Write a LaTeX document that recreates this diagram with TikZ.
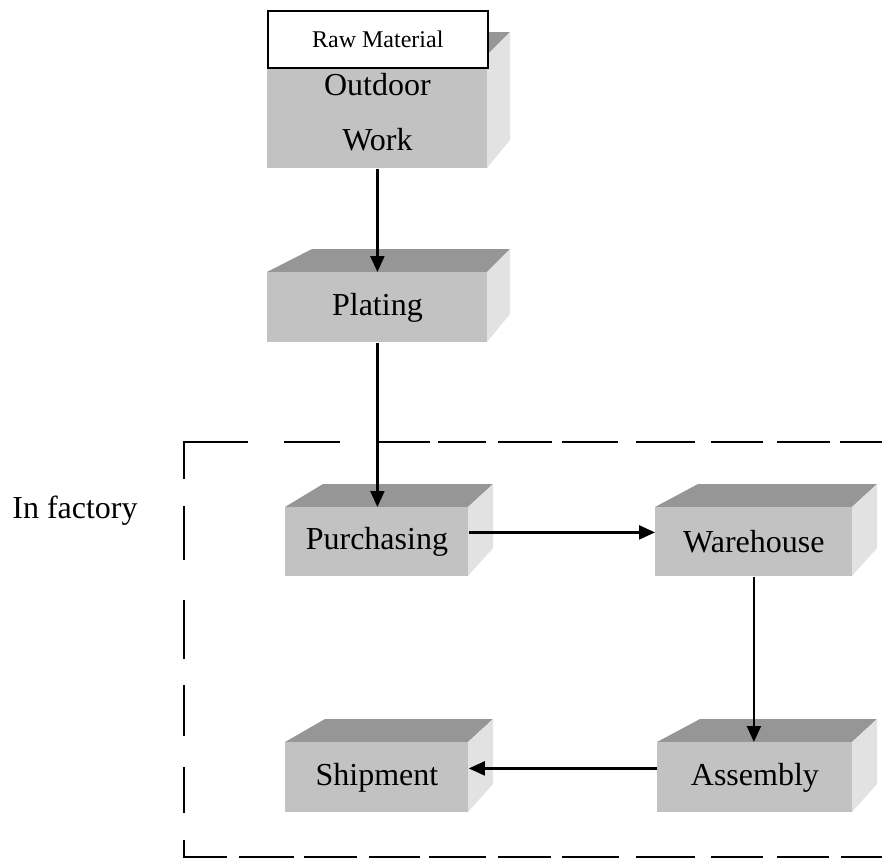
\documentclass[tikz,border=0pt]{standalone}
\usepackage{fontspec}
\setmainfont{Liberation Serif}
\usetikzlibrary{arrows.meta}

\definecolor{faceFront}{HTML}{C2C2C2}
\definecolor{faceTop}{HTML}{969696}
\definecolor{faceSide}{HTML}{E2E2E2}

% A shaded 3-D block: #1 name, #2/#3 left/right x of the front face,
% #4/#5 top/bottom y of the front face, #6/#7 back-left/back-right x of the top face,
% #8 label
\newcommand\prismbox[8]{%
  \fill[faceTop] (#2,#4) -- (#3,#4) -- (#7,#4-23) -- (#6,#4-23) -- cycle;
  \fill[faceSide] (#3,#4) -- (#7,#4-23) -- (#7,#5-28) -- (#3,#5) -- cycle;
  \node[frontface, anchor=north west,
        minimum width={(#3-#2)*0.5pt}, minimum height={(#5-#4)*0.5pt}]
        (#1) at (#2,#4) {#8};
}

\begin{document}
\begin{tikzpicture}[x=0.5pt, y=-0.5pt,
  frontface/.style={fill=faceFront, inner sep=0pt, align=center,
                    font=\fontsize{16pt}{27.5pt}\selectfont},
  labelbox/.style={draw=black, line width=0.8pt, fill=white, inner sep=0pt,
                   font=\fontsize{12pt}{14pt}\selectfont},
  flow/.style={line width=1.1pt, -{Triangle[length=8pt, width=7pt]}},
  border/.style={line width=1pt, line cap=butt},
]
\useasboundingbox (0,0) rectangle (882,857);

% blocks
\prismbox{outdoor}{267}{487}{55}{168}{312}{510}{Outdoor\\Work}
\node[labelbox, anchor=north west, minimum width=110pt, minimum height=28.5pt]
  (raw) at (267,10) {Raw Material};
\prismbox{plating}{267}{487}{272}{342}{312}{510}{Plating}
\prismbox{purch}{285}{468}{507}{576}{323}{493}{Purchasing}
\prismbox{ware}{655}{852}{507}{576}{698}{877}{Warehouse}
\prismbox{ship}{285}{468}{742}{812}{325}{493}{Shipment}
\prismbox{assy}{657}{852}{742}{812}{700}{877}{Assembly}

% factory boundary
\draw[border] (184,479) -- (184,442) -- (248,442);
\foreach \a/\b in {284/340, 378/430, 438/486, 498/552, 562/618, 636/695,
                   711/763, 777/830, 840/890}
  \draw[border] (\a,442) -- (\b,442);
\foreach \a/\b in {506/560, 600/659, 685/736, 767/813}
  \draw[border] (184,\a) -- (184,\b);
\draw[border] (184,840) -- (184,856.5) -- (227,856.5);
\foreach \a/\b in {239/294, 304/357, 369/420, 429/486, 498/551, 562/619,
                   636/695, 711/763, 777/829, 841/890}
  \draw[border] (\a,856.5) -- (\b,856.5);

\node[font=\fontsize{16pt}{19pt}\selectfont] (factory) at (75,511) {In factory};

% flow
\draw[flow] (outdoor.south) -- (plating.north);
\draw[flow] (plating.south) -- (plating.south |- purch.north);
\draw[flow] ([yshift=4.75pt]purch.east) -- ([yshift=4.75pt]ware.west);
\draw[flow] (ware.south) -- (ware.south |- assy.north);
\draw[flow] ([yshift=4.5pt]assy.west) -- ([yshift=4.5pt]ship.east);
\end{tikzpicture}
\end{document}
